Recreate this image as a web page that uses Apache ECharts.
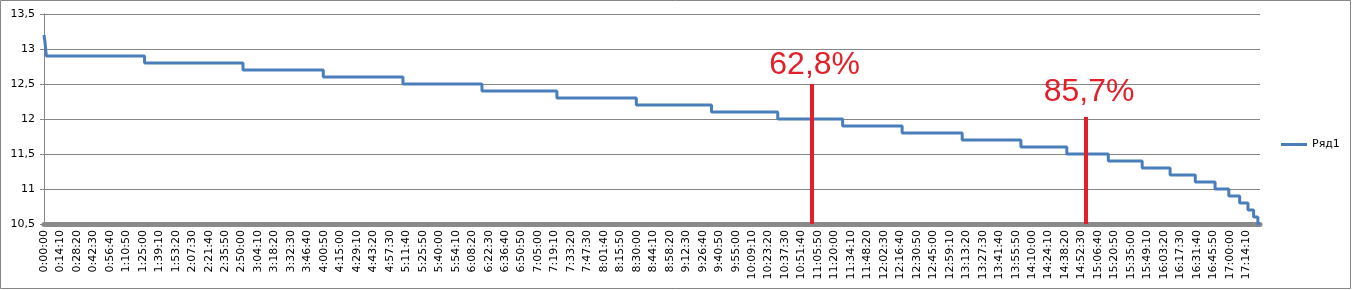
<!DOCTYPE html>
<html><head><meta charset="utf-8">
<script src="https://cdn.jsdelivr.net/npm/echarts@6/dist/echarts.min.js"></script>
<style>html,body{margin:0;padding:0;background:#fff}#c{width:1352px;height:290px}</style>
</head><body><div id="c"></div>
<script>
// step change times (seconds from start) and the value held from that time on
const stepTimes  = [0, 50, 120, 5190, 10270, 14415, 18527, 22603, 26471, 30570, 34450, 37870, 41220, 44290, 47390, 50420, 52790, 54930, 56680, 58120, 59420, 60440, 61150, 61710, 62140, 62430, 62650, 62760];
const stepValues = [13.2, 13.1, 12.9, 12.8, 12.7, 12.6, 12.5, 12.4, 12.3, 12.2, 12.1, 12.0, 11.9, 11.8, 11.7, 11.6, 11.5, 11.4, 11.3, 11.2, 11.1, 11.0, 10.9, 10.8, 10.7, 10.6, 10.5, 10.5];
const seriesName = 'Ряд1';
// annotations
const annotTimes  = [39620, 53780];
const annotTops   = [12.5, 12.03];
const annotLabels = ['62,8%', '85,7%'];
// axes
const xMin = 0, xMax = 62760, xStep = 850;
const yMin = 10.5, yMax = 13.5, yStep = 0.5;

function fmtTime(v){
  const h = Math.floor(v/3600), m = Math.floor((v%3600)/60), s = Math.round(v%60);
  return h + ':' + String(m).padStart(2,'0') + ':' + String(s).padStart(2,'0');
}
const lineData = stepTimes.map((t,i)=>[t, stepValues[i]]);
const annotDistances = [3, 9];
const markData = annotTimes.map((t,i)=>[
  {coord:[t, yMin], name: annotLabels[i], label:{distance: annotDistances[i], offset:[3,0]}},
  {coord:[t, annotTops[i]]}
]);

const chart = echarts.init(document.getElementById('c'), null, {renderer:'canvas'});
chart.setOption({
  animation:false,
  backgroundColor:'#fff',
  textStyle:{fontFamily:'DejaVu Sans'},
  grid:{left:44, right:92, top:14, bottom:66, containLabel:false, outerBoundsMode:'none'},
  legend:{
    show:true, orient:'vertical', left:1276, top:134,
    icon:'rect', itemWidth:26, itemHeight:3,
    textStyle:{fontFamily:'DejaVu Sans', fontSize:11, color:'#000'},
    data:[seriesName]
  },
  xAxis:{
    type:'value', min:xMin, max:xMax, interval:xStep,
    axisLine:{show:true, lineStyle:{color:'#8a8a8a', width:5}},
    axisTick:{show:false},
    splitLine:{show:false},
    axisLabel:{
      rotate:90, fontSize:11, color:'#000', fontFamily:'DejaVu Sans', margin:6,
      showMaxLabel:false, showMinLabel:true,
      formatter:(v)=> (v % xStep === 0 ? fmtTime(v) : '')
    }
  },
  yAxis:{
    type:'value', min:yMin, max:yMax, interval:yStep,
    axisLine:{show:true, lineStyle:{color:'#868686', width:1}},
    axisTick:{show:true, length:4, lineStyle:{color:'#868686'}},
    splitLine:{show:true, lineStyle:{color:'#868686', width:1}},
    axisLabel:{fontSize:11, color:'#000', fontFamily:'DejaVu Sans', margin:9,
      formatter:(v)=> String(v).replace('.', ',')}
  },
  graphic:[{type:'rect', shape:{x:0.5,y:0.5,width:1350,height:288}, style:{fill:null, stroke:'#868686', lineWidth:1}, silent:true, z:-1}],
  series:[{
    name:seriesName, type:'line', step:'end', data:lineData,
    showSymbol:false, symbol:'none',
    lineStyle:{color:'#4a7ebb', width:3},
    itemStyle:{color:'#4a7ebb'},
    markLine:{
      silent:true, symbol:['none','none'],
      lineStyle:{color:'#e3202a', width:4, type:'solid'},
      label:{show:true, position:'end', formatter:'{b}', color:'#e3202a', fontSize:32, fontFamily:'Liberation Sans'},
      data:markData
    }
  }]
});
</script></body></html>
